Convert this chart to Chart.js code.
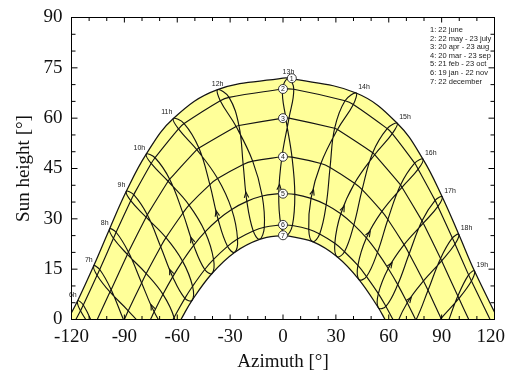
<!DOCTYPE html>
<html>
<head>
<meta charset="utf-8">
<title>Sun path diagram</title>
<script src="https://cdn.jsdelivr.net/npm/chart.js@4/dist/chart.umd.min.js"></script>
<style>
html,body{margin:0;padding:0;background:#ffffff;}
canvas{display:block;}
</style>
</head>
<body>
<canvas id="chart" width="510" height="375"></canvas>
<script>
// ---------------- data (azimuth [deg], sun height [deg]) ----------------
// order of the points in every hour line (one loop over the year)
const loopDates = ['22 jun','23 jul','23 aug','23 sep','23 oct','22 nov','22 dec','19 jan','21 feb','20 mar','20 apr','22 may'];
const hourNames = ['6h','7h','8h','9h','10h','11h','12h','13h','14h','15h','16h','17h','18h','19h'];

const h06 = [[-116.5,5.6],[-114.9,2.6],[-108.0,-2.8],[-97.8,-8.7],[-88.0,-14.4],[-80.7,-20.6],[-79.9,-24.9],[-84.5,-25.2],[-92.9,-19.9],[-100.3,-11.5],[-107.4,-2.1],[-113.3,4.3]];
const h07 = [[-107.4,16.0],[-105.5,13.2],[-98.2,8.2],[-87.8,2.6],[-78.2,-3.3],[-71.5,-9.8],[-70.9,-14.0],[-75.2,-14.1],[-83.0,-8.7],[-90.3,-0.3],[-97.5,8.9],[-104.0,14.9]];
const h08 = [[-98.4,27.0],[-96.2,24.2],[-88.3,19.4],[-77.6,13.7],[-68.1,7.5],[-61.8,0.6],[-61.7,-3.7],[-65.8,-3.5],[-73.1,2.3],[-80.2,10.9],[-87.7,20.1],[-94.7,26.0]];
const h09 = [[-88.9,38.2],[-86.4,35.4],[-77.7,30.5],[-66.4,24.4],[-57.0,17.4],[-51.3,9.9],[-51.6,5.7],[-55.7,6.3],[-62.6,12.7],[-69.4,21.7],[-77.0,31.2],[-84.7,37.2]];
const h10 = [[-77.6,49.3],[-74.8,46.5],[-65.2,41.2],[-53.3,34.1],[-44.2,26.1],[-39.4,17.9],[-40.3,13.7],[-44.4,14.9],[-50.7,22.1],[-56.8,31.7],[-64.3,41.8],[-72.6,48.2]];
const h11 = [[-62.2,59.9],[-59.3,56.8],[-48.9,50.6],[-37.1,42.0],[-29.1,32.8],[-25.8,24.0],[-27.5,20.0],[-31.5,21.8],[-36.8,29.8],[-41.5,40.2],[-47.7,51.1],[-56.1,58.4]];
const h12 = [[-37.1,68.5],[-35.6,65.2],[-26.6,57.5],[-17.2,47.2],[-11.8,36.8],[-10.6,27.5],[-13.3,23.9],[-16.9,26.4],[-20.5,35.2],[-22.6,46.2],[-25.0,57.8],[-30.6,66.2]];
const h13 = [[3.1,71.9],[-0.3,68.7],[1.6,60.0],[5.1,48.4],[6.7,37.3],[5.3,28.0],[1.8,25.0],[-1.2,28.2],[-2.4,37.5],[-0.6,48.5],[3.4,60.0],[6.1,68.6]];
const h14 = [[41.5,67.5],[35.2,65.2],[29.3,57.0],[26.7,45.3],[24.5,34.2],[20.8,25.5],[16.8,23.2],[14.6,26.9],[15.9,36.1],[21.5,46.5],[30.9,56.6],[39.9,64.1]];
const h15 = [[64.8,58.5],[59.1,56.9],[50.9,49.7],[44.9,38.7],[40.2,28.2],[34.9,20.2],[30.7,18.7],[29.4,22.7],[32.8,31.5],[40.6,40.6],[52.0,49.1],[62.0,55.4]];
const h16 = [[79.4,47.8],[74.7,46.6],[66.7,40.1],[59.5,29.8],[53.6,20.0],[47.4,12.8],[43.1,11.9],[42.5,16.1],[47.3,24.3],[56.1,32.2],[67.5,39.4],[76.7,44.8]];
const h17 = [[90.3,36.6],[86.3,35.5],[78.9,29.4],[71.6,19.6],[65.1,10.4],[58.4,3.9],[54.1,3.5],[54.1,7.7],[59.7,15.2],[68.7,22.3],[79.6,28.7],[87.9,33.7]];
const h18 = [[99.7,25.4],[96.1,24.3],[89.4,18.2],[82.3,8.7],[75.4,-0.2],[68.3,-6.2],[63.9,-6.1],[64.3,-2.0],[70.5,5.0],[79.7,11.5],[90.0,17.5],[97.6,22.5]];
const h19 = [[108.6,14.5],[105.3,13.3],[99.2,7.0],[92.3,-2.6],[85.2,-11.3],[77.6,-16.9],[73.1,-16.6],[73.8,-12.5],[80.5,-5.8],[89.7,0.3],[99.8,6.3],[106.9,11.5]];
const hourLines = [h06,h07,h08,h09,h10,h11,h12,h13,h14,h15,h16,h17,h18,h19];

// day curves 1..7
const curveLegend = ['1: 22 june','2: 22 may - 23 july','3: 20 apr - 23 aug','4: 20 mar - 23 sep','5: 21 feb - 23 oct','6: 19 jan - 22 nov','7: 22 december'];
const curveNumbers = ['1','2','3','4','5','6','7'];
const curveDateIdx = [[0],[1,11],[2,10],[3,9],[4,8],[5,7],[6]];   // which loop dates lie on each curve
const noonAltitude = [71.9, 68.7, 60.0, 48.5, 37.5, 28.2, 25.1];
const riseAzimuth  = [122.1, 117.5, 105.4, 90.0, 75.2, 62.4, 57.9];
const circleAzimuth = [5, 0, 0, 0, 0, 0, 0];

// arrows: on the strand going from '21 feb' to '20 mar'
const arrowFromIdx = 8, arrowToIdx = 9;

// ---------------- build datasets ----------------
const toXY = pts => pts.map(p => ({x: p[0], y: p[1]}));

function dayCurvePoints(i) {
  const pts = [[-riseAzimuth[i], 0], [0, noonAltitude[i]], [riseAzimuth[i], 0]];
  hourLines.forEach(line => curveDateIdx[i].forEach(d => { if (line[d][1] > 0) pts.push(line[d]); }));
  pts.sort((p, q) => p[0] - q[0]);
  return toXY(pts);
}

const LINE = '#141414';
const datasets = [];
hourLines.forEach((line, k) => {
  const n = line.length;
  const closed = [line[n - 1], ...line, line[0], line[1]];
  const last = closed.length - 2;
  datasets.push({
    label: hourNames[k], data: toXY(closed), order: 0, fill: false, clip: 0,
    borderColor: LINE, borderWidth: 1.15,
    segment: { borderColor: c => (c.p0DataIndex === 0 || c.p0DataIndex === last) ? 'rgba(0,0,0,0)' : undefined }
  });
});
for (let i = 1; i <= 5; i++) {
  datasets.push({label: curveLegend[i], data: dayCurvePoints(i), order: 0, fill: false, clip: 0, borderColor: LINE, borderWidth: 1.15});
}
datasets.push({label: curveLegend[6], data: dayCurvePoints(6), order: 1, fill: 'origin', clip: 0, backgroundColor: '#ffffff', borderColor: LINE, borderWidth: 1.25});
datasets.push({label: curveLegend[0], data: dayCurvePoints(0), order: 2, fill: 'origin', clip: 0, backgroundColor: '#ffff99', borderColor: LINE, borderWidth: 1.25});

// ---------------- decorations ----------------
const decor = {
  id: 'decor',
  afterDatasetsDraw(chart) {
    const {ctx, chartArea: a, scales: {x, y}} = chart;
    ctx.save();
    ctx.beginPath(); ctx.rect(a.left, a.top, a.right - a.left, a.bottom - a.top); ctx.clip();
    // arrows on hour lines
    ctx.strokeStyle = LINE; ctx.lineWidth = 1.1;
    hourLines.forEach(line => {
      const x0 = x.getPixelForValue(line[arrowFromIdx][0]), y0 = y.getPixelForValue(line[arrowFromIdx][1]);
      const x1 = x.getPixelForValue(line[arrowToIdx][0]), y1 = y.getPixelForValue(line[arrowToIdx][1]);
      const px = x0 + 0.25 * (x1 - x0), py = y0 + 0.25 * (y1 - y0);
      if (py > a.bottom - 3 || px < a.left || px > a.right) return;
      const ang = Math.atan2(y1 - y0, x1 - x0);
      ctx.beginPath();
      ctx.moveTo(px + 6 * Math.cos(ang + Math.PI - 0.38), py + 6 * Math.sin(ang + Math.PI - 0.38));
      ctx.lineTo(px, py);
      ctx.lineTo(px + 6 * Math.cos(ang + Math.PI + 0.38), py + 6 * Math.sin(ang + Math.PI + 0.38));
      ctx.stroke();
    });
    ctx.restore();

    ctx.save();
    // hour labels at the 22 june end of every loop
    ctx.font = '7px "Liberation Sans"'; ctx.fillStyle = '#1a1a1a'; ctx.textBaseline = 'middle';
    hourLines.forEach((line, k) => {
      const az = line[0][0];
      const px = x.getPixelForValue(az), py = y.getPixelForValue(line[0][1]);
      ctx.textAlign = az < -40 ? 'right' : (az > 40 ? 'left' : 'center');
      const dx = az < -40 ? -1 : (az > 40 ? 2 : 0);
      ctx.fillText(hourNames[k], px + dx, py - 6);
    });
    // circled curve numbers
    curveNumbers.forEach((num, i) => {
      const px = x.getPixelForValue(circleAzimuth[i]), py = y.getPixelForValue(noonAltitude[i]);
      ctx.beginPath(); ctx.arc(px, py, 4.5, 0, 2 * Math.PI);
      ctx.fillStyle = '#ffffff'; ctx.fill();
      ctx.lineWidth = 0.9; ctx.strokeStyle = '#222'; ctx.stroke();
      ctx.fillStyle = '#1a1a1a'; ctx.font = '7px "Liberation Sans"'; ctx.textAlign = 'center'; ctx.textBaseline = 'middle';
      ctx.fillText(num, px, py + 0.5);
    });
    ctx.restore();
  },
  afterDraw(chart) {
    const {ctx, chartArea: a, scales: {x, y}} = chart;
    ctx.save();
    ctx.strokeStyle = '#000'; ctx.lineWidth = 1;
    ctx.strokeRect(a.left, a.top, a.right - a.left, a.bottom - a.top);
    ctx.beginPath();
    y.ticks.forEach(t => {
      const py = y.getPixelForValue(t.value);
      const len = t.value % 15 === 0 ? 6 : 4;
      ctx.moveTo(a.left, py); ctx.lineTo(a.left + len, py);
      ctx.moveTo(a.right, py); ctx.lineTo(a.right - len, py);
    });
    x.ticks.forEach(t => {
      const px = x.getPixelForValue(t.value);
      const len = t.value % 30 === 0 ? 5 : 3.5;
      ctx.moveTo(px, a.bottom); ctx.lineTo(px, a.bottom - len);
      ctx.moveTo(px, a.top); ctx.lineTo(px, a.top + len);
    });
    ctx.stroke();
    // x tick labels
    ctx.font = '19px "Liberation Serif"'; ctx.fillStyle = '#111'; ctx.textAlign = 'center'; ctx.textBaseline = 'alphabetic';
    x.ticks.forEach(t => {
      if (t.value % 30 !== 0) return;
      const s = String(t.value);
      const w = ctx.measureText(s).width;
      const px = Math.min(x.getPixelForValue(t.value), chart.width - w / 2 - 5);
      ctx.fillText(s, px, 342);
    });
    // legend text block
    ctx.font = '7.5px "Liberation Sans"'; ctx.fillStyle = '#1a1a1a'; ctx.textAlign = 'left'; ctx.textBaseline = 'middle';
    curveLegend.forEach((s, i) => ctx.fillText(s, 430, 30 + i * 8.6));
    ctx.restore();
  }
};

const everyStep = step => s => {
  const t = [];
  for (let v = s.min; v <= s.max + 1e-9; v += step) t.push({value: v});
  s.ticks = t;
};

new Chart(document.getElementById('chart'), {
  type: 'line',
  data: {datasets},
  options: {
    responsive: false, animation: false, devicePixelRatio: 1, events: [],
    layout: {padding: {left: 0, right: 15.5, top: 17.5, bottom: 0}},
    elements: {point: {radius: 0, hoverRadius: 0}, line: {tension: 0.4, capBezierPoints: false}},
    plugins: {legend: {display: false}, tooltip: {enabled: false}, filler: {propagate: false, drawTime: 'beforeDatasetsDraw'}},
    scales: {
      x: {
        type: 'linear', min: -120, max: 120,
        grid: {display: false, drawTicks: false}, border: {display: false},
        ticks: {display: false, stepSize: 10, autoSkip: false},
        afterBuildTicks: everyStep(10),
        title: {display: true, text: 'Azimuth [°]', color: '#111', font: {family: 'Liberation Serif', size: 19}, padding: {top: 0, bottom: 2}},
        afterFit: s => { s.height = 55.5; s.paddingLeft = 0; s.paddingRight = 0; }
      },
      y: {
        type: 'linear', min: 0, max: 90,
        grid: {display: false, drawTicks: false}, border: {display: false},
        ticks: {stepSize: 5, autoSkip: false, padding: 9, color: '#111', font: {family: 'Liberation Serif', size: 19},
                callback: v => (v % 15 === 0 ? String(v) : '')},
        afterBuildTicks: everyStep(5),
        title: {display: true, text: 'Sun height [°]', color: '#111', font: {family: 'Liberation Serif', size: 19}, padding: {top: 12.6, bottom: 0}},
        afterFit: s => { s.width = 71.5; s.paddingTop = 0; s.paddingBottom = 0; }
      }
    }
  },
  plugins: [decor]
});
</script>
</body>
</html>
